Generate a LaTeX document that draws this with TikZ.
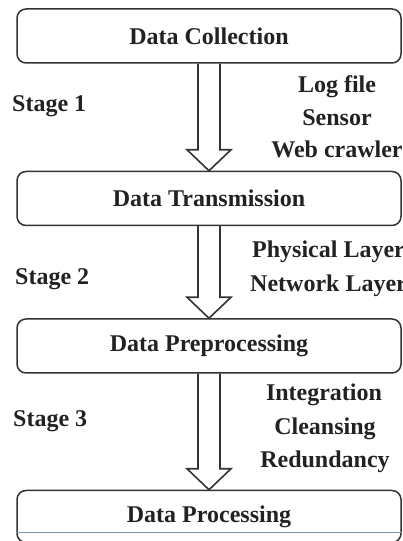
\documentclass[tikz,border=0pt]{standalone}
\usepackage{fontspec}
\setmainfont{Liberation Serif}
\usepackage{tikz}
\usetikzlibrary{
  positioning,
  calc
}
\definecolor{flowLine}{HTML}{333333}
\definecolor{flowText}{HTML}{222222}
\definecolor{flowBlue}{HTML}{7A96B4}
\tikzset{
  stagebox/.style={
    draw=flowLine, line width=1.5pt, rounded corners=9pt,
    minimum width=384pt, minimum height=54pt, inner sep=0pt,
    text=flowText, font=\fontsize{24}{29}\selectfont\bfseries
  },
  hollowarrow/.style={draw=flowLine, line width=1.6pt, line join=miter},
  sidelabel/.style={text=flowText, font=\fontsize{24}{29}\selectfont\bfseries, inner sep=0pt},
  blueline/.style={draw=flowBlue, line width=1.2pt}
}

\begin{document}
\begin{tikzpicture}[x=1pt,y=1pt]
  \useasboundingbox (0,0) rectangle (402,541);
  \clip (0,0) rectangle (402,541);
  % stages
  \node[stagebox] (col) at (209,505) {Data Collection};
  \node[stagebox, below=107pt of col] (trans) {Data Transmission};
  \node[stagebox, below=92pt of trans] (prep) {Data Preprocessing};
  \node[stagebox, below=116pt of prep, minimum height=52pt] (proc) {Data Processing};
  \draw[blueline] ($(proc.west)+(1,-16)$) -- ($(proc.east)+(0,-16)$);
  % hollow arrows
  \draw[hollowarrow] ($(col.south)+(-11,0)$) -- ($(trans.north)+(-11,21)$) -- ($(trans.north)+(-22,21)$) -- (trans.north) -- ($(trans.north)+(22,21)$) -- ($(trans.north)+(11,21)$) -- ($(col.south)+(11,0)$);
  \draw[hollowarrow] ($(trans.south)+(-11,0)$) -- ($(prep.north)+(-11,21)$) -- ($(prep.north)+(-22,21)$) -- (prep.north) -- ($(prep.north)+(22,21)$) -- ($(prep.north)+(11,21)$) -- ($(trans.south)+(11,0)$);
  \draw[hollowarrow] ($(prep.south)+(-11,0)$) -- ($(proc.north)+(-11,21)$) -- ($(proc.north)+(-22,21)$) -- (proc.north) -- ($(proc.north)+(22,21)$) -- ($(proc.north)+(11,21)$) -- ($(prep.south)+(11,0)$);
  % stage labels
  \node[sidelabel, anchor=base west] (st1) at (12,429) {Stage 1};
  \node[sidelabel, anchor=base west] (st2) at (15,256) {Stage 2};
  \node[sidelabel, anchor=base west] (st3) at (13,114) {Stage 3};
  % what each stage covers
  \node[sidelabel, anchor=base] (log) at (337,448) {Log file};
  \node[sidelabel, anchor=base] (sen) at (337,415) {Sensor};
  \node[sidelabel, anchor=base] (web) at (337,383) {Web crawler};
  \node[sidelabel, anchor=base west] (phy) at (252,283) {Physical Layer};
  \node[sidelabel, anchor=base west] (net) at (250,249) {Network Layer};
  \node[sidelabel, anchor=base] (integ) at (324,140) {Integration};
  \node[sidelabel, anchor=base] (clean) at (325,106) {Cleansing};
  \node[sidelabel, anchor=base] (redu) at (325,73) {Redundancy};
\end{tikzpicture}
\end{document}
